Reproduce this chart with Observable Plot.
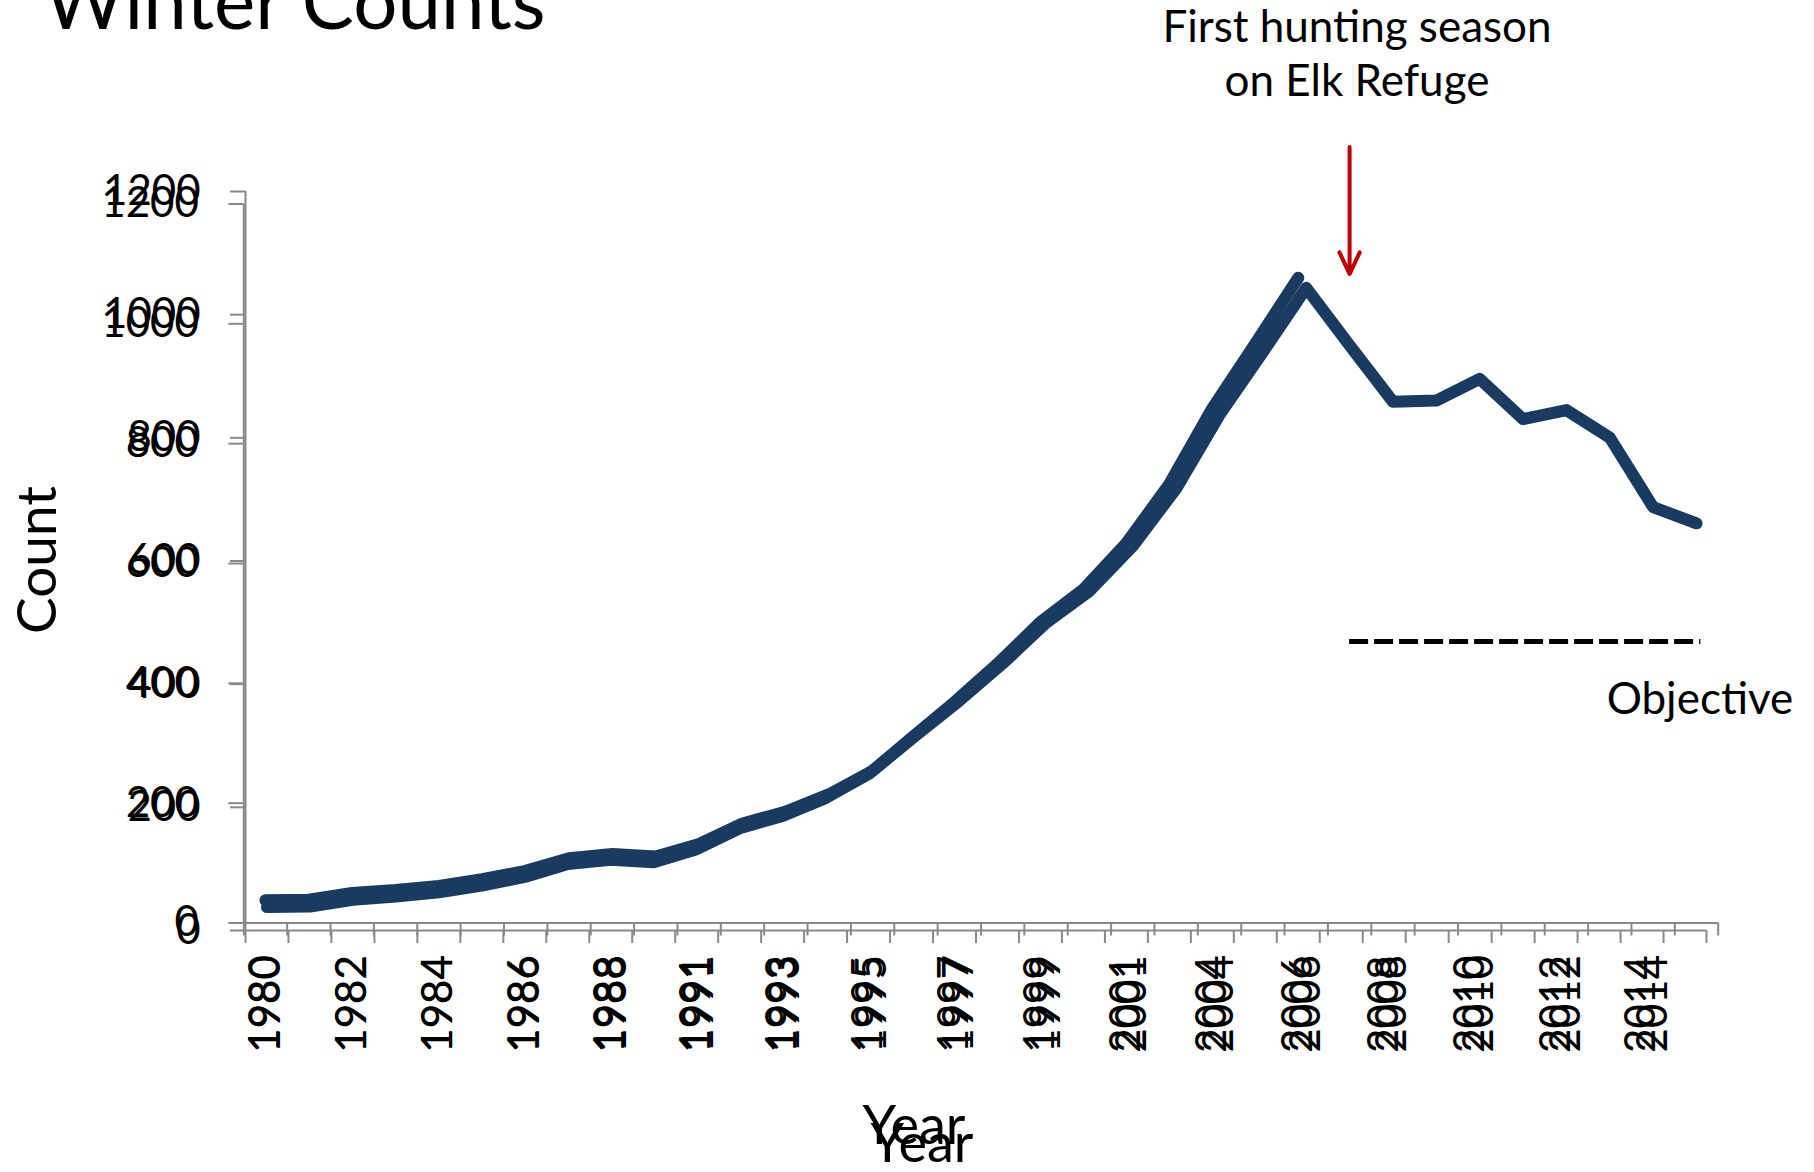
<!DOCTYPE html>
<html>
<head>
<meta charset="utf-8">
<script src="https://cdn.jsdelivr.net/npm/d3@7"></script>
<script src="https://cdn.jsdelivr.net/npm/@observablehq/plot@0.6"></script>
<style>
  html, body { margin: 0; padding: 0; background: #fff; }
  #wrap { position: relative; width: 1814px; height: 1172px; overflow: hidden; font-family: Lato, "Open Sans", sans-serif; color: #000; }
  #wrap svg { position: absolute; left: 0; top: 0; }
  .t { position: absolute; white-space: nowrap; line-height: 1; }
</style>
</head>
<body>
<div id="wrap"></div>
<script>
// ---- data ----
const years = ["1980","1981","1982","1983","1984","1985","1986","1987","1988","1990",
               "1991","1992","1993","1994","1995","1996","1997","1998","1999","2000",
               "2001","2003","2004","2005","2006","2007","2008","2009","2010","2011",
               "2012","2013","2014","2015"];
const counts = [38, 39, 50, 55, 62, 73, 87, 108, 115, 111,
                132, 166, 186, 215, 254, 313, 371, 433, 501, 554,
                629, 725, 848, 953, 1060, 964, 870, 872, 908, 841,
                856, 810, 694, 667];
const yTicks = [0, 200, 400, 600, 800, 1000, 1200];
const oldSeriesLastYear = "2006";   // the earlier chart (overlaid) stops here
const huntYear = "2007";            // first hunting season on Elk Refuge
const objective = 470;              // objective level
const objectiveFrom = "2007", objectiveTo = "2015";

const axisGray = "#898989";
const lineColor = "#1b3a5f";
const W = 1814, H = 1172;

const idx = y => years.indexOf(y);

function build(cfg, extra) {
  const n = idx(cfg.lastYear) + 1;
  const data = counts.slice(0, n).map((v, i) => ({i, v}));
  const bounds = d3.range(-0.5, years.length, 1);
  const labelIdx = d3.range(0, years.length, 2);
  return Plot.plot({
    width: W, height: H,
    marginLeft: cfg.left, marginRight: W - cfg.right,
    marginTop: cfg.top, marginBottom: H - cfg.bottom,
    style: {fontFamily: "Lato, sans-serif", fontSize: "42px", color: "#000", background: "transparent", overflow: "visible"},
    x: {type: "linear", domain: [-0.5, years.length - 0.5]},
    y: {domain: [0, 1200]},
    marks: [
      Plot.axisY({ticks: yTicks, tickFormat: d => String(d), tickSize: 15, tickPadding: 30, stroke: axisGray, strokeWidth: 2, label: null, fontSize: 42}),
      Plot.axisX({ticks: bounds, tickSize: 13, tickFormat: () => "", stroke: axisGray, strokeWidth: 2, label: null}),
      Plot.axisX({ticks: labelIdx, tickSize: 0, tickPadding: cfg.xPad, tickRotate: -90, tickFormat: i => years[i], label: null, fontSize: 42}),
      Plot.ruleX([-0.5], {stroke: axisGray, strokeWidth: 2}),
      Plot.ruleY([0], {stroke: axisGray, strokeWidth: 2}),
      Plot.line(data, {x: "i", y: "v", stroke: lineColor, strokeWidth: 12, strokeLinejoin: "round", strokeLinecap: "round"}),
      ...(extra || [])
    ]
  });
}

// earlier chart (lower axes)
const chartA = build({lastYear: oldSeriesLastYear, left: 245, right: 1706, top: 191, bottom: 930, xPad: 25});
// later chart (upper axes) with annotations
const chartB = build({lastYear: years[years.length - 1], left: 243.3, right: 1717.7, top: 203.5, bottom: 922.5, xPad: 32}, [
  Plot.ruleY([objective], {x1: idx(objectiveFrom), x2: idx(objectiveTo) + 0.1, stroke: "#000", strokeWidth: 5, strokeDasharray: "19,6"}),
  Plot.arrow([{x: idx(huntYear)}], {x1: "x", x2: "x", y1: () => 1295, y2: () => 1083, stroke: "#c00000", strokeWidth: 4, headLength: 9, headAngle: 50})
]);

const wrap = document.getElementById("wrap");
wrap.appendChild(chartA);
wrap.appendChild(chartB);

function addText(txt, css) {
  const d = document.createElement("div");
  d.className = "t";
  d.textContent = txt;
  Object.assign(d.style, css);
  wrap.appendChild(d);
  return d;
}
addText("Winter Counts", {left: "44px", top: "-40px", fontSize: "78px"});
const hunt = addText("", {left: "1357px", top: "-2px", fontSize: "44px", lineHeight: "54px", textAlign: "center", transform: "translateX(-50%)"});
hunt.innerHTML = "First hunting season<br>on Elk Refuge";
addText("Objective", {left: "1700px", top: "675px", fontSize: "44px", transform: "translateX(-50%)"});
addText("Count", {left: "35px", top: "560px", fontSize: "55px", transform: "translate(-50%,-50%) rotate(-90deg)"});
addText("Year", {left: "914px", top: "1097px", fontSize: "54px", transform: "translateX(-50%)"});
addText("Year", {left: "922px", top: "1115px", fontSize: "54px", transform: "translateX(-50%)"});
</script>
</body>
</html>
